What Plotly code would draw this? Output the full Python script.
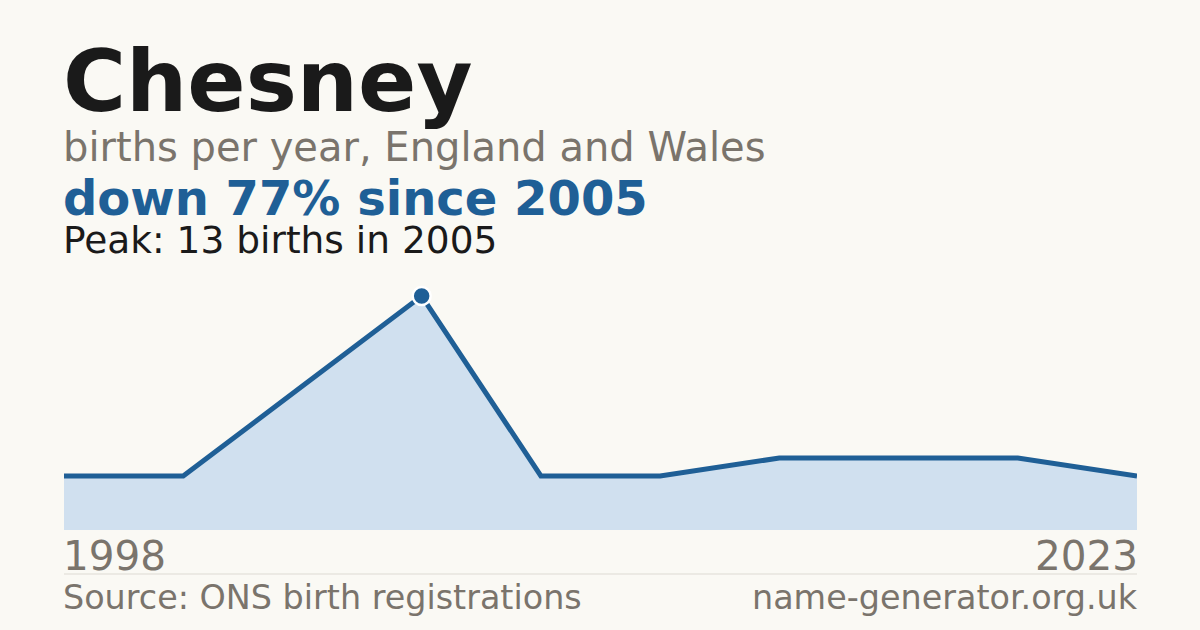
import plotly.graph_objects as go

# births per registered year (only years with >= 3 births are published)
YEARS = ["1998", "2002", "2004", "2005", "2008", "2011", "2014", "2017", "2020", "2023"]
BIRTHS = [3, 3, 8, 13, 3, 3, 4, 4, 4, 3]

NAME = "Chesney"
SUBTITLE = "births per year, England and Wales"
SOURCE = "Source: ONS birth registrations"
SITE = "name-generator.org.uk"

BG = "#faf9f4"
BLUE = "#1f5f96"
FILL = "#d0e0ef"
GREY = "#7a746c"
INK = "#1a1a1a"
FONT = "DejaVu Sans"

W, H = 1200, 630


def py(px):
    # pixel row (from top) -> paper fraction
    return (H - px) / H


peak_i = BIRTHS.index(max(BIRTHS))
peak_year = YEARS[peak_i]
change = round((BIRTHS[-1] - BIRTHS[peak_i]) / BIRTHS[peak_i] * 100)
headline = f"{'down' if change < 0 else 'up'} {abs(change)}% since {peak_year}"
peak_text = f"Peak: {BIRTHS[peak_i]} births in {peak_year}"

fig = go.Figure()
fig.add_scatter(x=YEARS, y=BIRTHS, mode="lines", fill="tozeroy",
                fillcolor=FILL, line=dict(color=BLUE, width=5),
                hoverinfo="skip", showlegend=False)
fig.add_scatter(x=[peak_year], y=[BIRTHS[peak_i]], mode="markers",
                marker=dict(color=BLUE, size=18, line=dict(color="white", width=2.5)),
                hoverinfo="skip", showlegend=False, cliponaxis=False)

x0, x1 = 64 / W, 1137 / W
# annotation boxes carry a few px of padding; nudge text onto the edges
tx0, tx1 = 61 / W, 1140 / W

ann = [
    dict(text=f"<b>{NAME}</b>", y=py(133), size=86, color=INK),
    dict(text=SUBTITLE, y=py(172), size=40, color=GREY),
    dict(text=f"<b>{headline}</b>", y=py(228), size=48, color=BLUE),
    dict(text=peak_text, y=py(264), size=37.5, color=INK),
]
for a in ann:
    fig.add_annotation(text=a["text"], x=tx0, y=a["y"], xref="paper", yref="paper",
                       xanchor="left", yanchor="bottom", showarrow=False,
                       font=dict(family=FONT, size=a["size"], color=a["color"]))

for txt, xa, anchor, size, ypx in [
    (YEARS[0], tx0, "left", 40.5, 582),
    (YEARS[-1], tx1, "right", 40.5, 582),
    (SOURCE, tx0, "left", 33.4, 619),
    (SITE, tx1, "right", 33.4, 619),
]:
    fig.add_annotation(text=txt, x=xa, y=py(ypx), xref="paper", yref="paper",
                       xanchor=anchor, yanchor="bottom", showarrow=False,
                       font=dict(family=FONT, size=size, color=GREY))

fig.add_shape(type="line", xref="paper", yref="paper", x0=x0, x1=x1,
              y0=py(574), y1=py(574), line=dict(color="#dddad3", width=1))

fig.update_layout(
    width=W, height=H,
    paper_bgcolor=BG, plot_bgcolor=BG,
    margin=dict(l=0, r=0, t=0, b=0),
    xaxis=dict(domain=[x0, x1], range=[0, len(YEARS) - 1], visible=False,
               fixedrange=True),
    yaxis=dict(domain=[py(530), py(278)], range=[0, 14], visible=False,
               fixedrange=True),
)

fig.write_html("out.html", config={"displayModeBar": False},
               post_script="document.body.style.margin='0';")
